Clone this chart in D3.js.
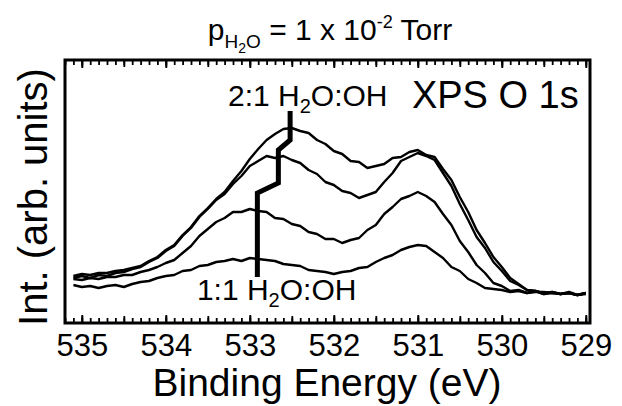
<!DOCTYPE html>
<meta charset="utf-8">
<style>
body { margin: 0; background: #fff; }
text { font-family: "Liberation Sans", Arial, Helvetica, sans-serif; fill: #000; }
.spec { fill: none; stroke: #000; stroke-width: 2.4px; stroke-linejoin: round; }
.axis path { display: none; }
.axis line { stroke: #000; stroke-width: 1.8px; }
</style>
<body>
<script src="https://d3js.org/d3.v7.min.js"></script>
<script>
// binding energy (eV), 0.1 eV steps
var energy = [535.1, 535.0, 534.9, 534.8, 534.7, 534.6, 534.5, 534.4, 534.3, 534.2,
              534.1, 534.0, 533.9, 533.8, 533.7, 533.6, 533.5, 533.4, 533.3, 533.2,
              533.1, 533.0, 532.9, 532.8, 532.7, 532.6, 532.5, 532.4, 532.3, 532.2,
              532.1, 532.0, 531.9, 531.8, 531.7, 531.6, 531.5, 531.4, 531.3, 531.2,
              531.1, 531.0, 530.9, 530.8, 530.7, 530.6, 530.5, 530.4, 530.3, 530.2,
              530.1, 530.0, 529.9, 529.8, 529.7, 529.6, 529.5, 529.4, 529.3, 529.2,
              529.1, 529.0];

// intensities (arb. units), top curve (2:1) to bottom (1:1)
var spec21 = [47, 49, 48, 50, 50, 52, 53, 55, 57, 62, 66, 73, 78, 88, 96, 107, 115, 124, 131, 142,
              152, 164, 174, 183, 189, 194, 195, 192, 190, 183, 179, 172, 169, 162, 161, 155, 157, 159, 165, 166,
              171, 173, 168, 166, 154, 143, 126, 111, 93, 80, 66, 56, 45, 39, 33, 32, 29, 30, 29, 30, 28, 30];
var specB = [45, 47, 45, 48, 47, 50, 51, 54, 56, 61, 65, 72, 77, 87, 95, 106, 114, 123, 129, 139,
             147, 157, 162, 167, 165, 167, 163, 160, 153, 149, 141, 138, 132, 130, 125, 128, 131, 141, 150, 162,
             166, 170, 167, 163, 150, 137, 119, 103, 86, 75, 61, 52, 42, 38, 33, 32, 30, 31, 29, 30, 28, 30];
var specC = [44, 43, 45, 44, 46, 46, 48, 48, 51, 53, 56, 60, 63, 70, 77, 87, 94, 101, 105, 111,
             111, 114, 112, 111, 105, 104, 99, 97, 91, 89, 84, 84, 80, 83, 85, 93, 98, 109, 116, 124,
             127, 131, 127, 121, 109, 98, 82, 71, 58, 50, 40, 37, 32, 33, 30, 32, 29, 31, 29, 30, 28, 29];
var spec11 = [38, 36, 37, 35, 37, 38, 36, 39, 41, 42, 45, 47, 48, 52, 53, 57, 58, 61, 62, 64,
              62, 65, 64, 63, 62, 59, 58, 57, 53, 52, 51, 49, 51, 52, 55, 56, 61, 65, 68, 73,
              76, 78, 77, 71, 65, 56, 52, 44, 40, 35, 34, 33, 31, 32, 30, 31, 31, 30, 29, 31, 28, 30];
var series = [spec21, specB, specC, spec11];

var tickLabels = [535, 534, 533, 532, 531, 530, 529];

// thick guide line between the two ratio labels
var guideE = [532.91, 532.91, 532.66, 532.66, 532.52, 532.52];
var guideI = [46, 130, 140, 173, 183, 212];

var margin = { top: 60, right: 32, bottom: 83, left: 65 },
    width = 622 - margin.left - margin.right,
    height = 406 - margin.top - margin.bottom;

var x = d3.scaleLinear().domain([535.2, 528.95]).range([0, width]);
var y = d3.scaleLinear().domain([0, 263]).range([height, 0]);

var root = d3.select("body").append("svg")
    .attr("width", 622)
    .attr("height", 406);
var svg = root.append("g")
    .attr("transform", "translate(" + margin.left + "," + margin.top + ")");

var line = d3.line()
    .x(function(d) { return x(d[0]); })
    .y(function(d) { return y(d[1]); });

series.forEach(function(s) {
    svg.append("path")
        .datum(energy.map(function(e, i) { return [e, s[i]]; }))
        .attr("class", "spec")
        .attr("d", line);
});

svg.append("path")
    .datum(guideE.map(function(e, i) { return [e, guideI[i]]; }))
    .attr("fill", "none")
    .attr("stroke", "#000")
    .attr("stroke-width", 5)
    .attr("d", line);

// ticks, inward on top and bottom
var minor = d3.range(0, 63).map(function(i) { return +(535.2 - i * 0.1).toFixed(1); });
var half = minor.filter(function(v) { return Math.abs(v * 2 - Math.round(v * 2)) < 1e-6; });

function ticks(vals, len) {
    svg.append("g").attr("class", "axis")
        .attr("transform", "translate(0," + height + ")")
        .call(d3.axisBottom(x).tickValues(vals).tickSize(-len).tickFormat(""));
    svg.append("g").attr("class", "axis")
        .call(d3.axisTop(x).tickValues(vals).tickSize(-len).tickFormat(""));
}
ticks(minor, 5);
ticks(half, 7);
ticks(tickLabels, 8);

var lab = svg.append("g").attr("class", "axis")
    .attr("transform", "translate(0," + height + ")")
    .call(d3.axisBottom(x).tickValues(tickLabels).tickSize(0).tickPadding(11)
        .tickFormat(d3.format("d")));
lab.selectAll("text").style("font-size", "31px").style("font-family", "Liberation Sans, Arial, sans-serif");
lab.selectAll("line").remove();

svg.append("rect")
    .attr("width", width)
    .attr("height", height)
    .attr("fill", "none")
    .attr("stroke", "#000")
    .attr("stroke-width", 3);

// labels
function ratioLabel(e, v, lead) {
    var t = svg.append("text")
        .attr("x", x(e))
        .attr("y", y(v))
        .style("font-size", "30px");
    t.append("tspan").text(lead + " H");
    t.append("tspan").attr("dy", 7).style("font-size", "20px").text("2");
    t.append("tspan").attr("dy", -7).text("O:OH");
}
ratioLabel(533.26, 217, "2:1");
ratioLabel(533.63, 23, "1:1");

svg.append("text")
    .attr("x", x(531.07))
    .attr("y", y(215))
    .style("font-size", "38px")
    .text("XPS O 1s");

var title = root.append("text")
    .attr("x", 330)
    .attr("y", 40)
    .attr("text-anchor", "middle")
    .style("font-size", "30px");
title.append("tspan").text("p");
title.append("tspan").attr("dy", 8).style("font-size", "19px").text("H");
title.append("tspan").attr("dy", 5).style("font-size", "14px").text("2");
title.append("tspan").attr("dy", -5).style("font-size", "19px").text("O");
title.append("tspan").attr("dy", -8).text(" = 1 x 10");
title.append("tspan").attr("dy", -12).style("font-size", "18px").text("-2");
title.append("tspan").attr("dy", 12).text(" Torr");

root.append("text")
    .attr("transform", "translate(47,197) rotate(-90)")
    .attr("text-anchor", "middle")
    .style("font-size", "40px")
    .text("Int. (arb. units)");

root.append("text")
    .attr("x", 327)
    .attr("y", 396)
    .attr("text-anchor", "middle")
    .style("font-size", "39px")
    .text("Binding Energy (eV)");
</script>
</body>
